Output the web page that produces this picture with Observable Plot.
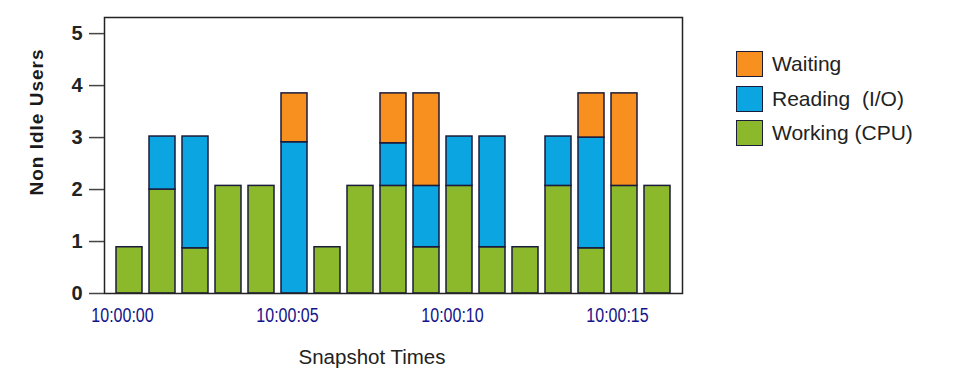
<!DOCTYPE html>
<html>
<head>
<meta charset="utf-8">
<script src="https://cdn.jsdelivr.net/npm/d3@7"></script>
<script src="https://cdn.jsdelivr.net/npm/@observablehq/plot@0.6"></script>
<style>
  body { margin: 0; background: #fff; }
  #wrap { position: relative; width: 964px; height: 380px; font-family: Arial, "Liberation Sans", sans-serif; }
  #wrap svg { position: absolute; left: 0; top: 0; }
  .ytitle { position: absolute; left: 37px; top: 122px; transform: translate(-50%, -50%) rotate(-90deg); font-weight: bold; font-size: 19px; letter-spacing: 1px; color: #1a1a1a; white-space: nowrap; }
  .xtitle { position: absolute; left: 372px; top: 357px; transform: translate(-50%, -50%); font-size: 20.5px; color: #222; white-space: nowrap; }
  .legend { position: absolute; left: 736px; top: 47px; }
  .legend .item { display: flex; align-items: center; height: 34.5px; }
  .legend .sw { width: 25px; height: 24px; border: 1.5px solid #1b1b3c; margin-right: 9px; }
  .legend .lab { font-size: 21px; color: #222; white-space: pre; }
</style>
</head>
<body>
<div id="wrap"></div>
<script>
const times = ["10:00:00","10:00:01","10:00:02","10:00:03","10:00:04","10:00:05","10:00:06","10:00:07","10:00:08","10:00:09","10:00:10","10:00:11","10:00:12","10:00:13","10:00:14","10:00:15","10:00:16"];
const working = [0.89, 2.00, 0.87, 2.07, 2.07, 0.00, 0.89, 2.07, 2.07, 0.89, 2.07, 0.89, 0.89, 2.07, 0.87, 2.07, 2.07];
const reading = [0.00, 1.02, 2.15, 0.00, 0.00, 2.91, 0.00, 0.00, 0.82, 1.18, 0.95, 2.13, 0.00, 0.95, 2.13, 0.00, 0.00];
const waiting = [0.00, 0.00, 0.00, 0.00, 0.00, 0.94, 0.00, 0.00, 0.96, 1.78, 0.00, 0.00, 0.00, 0.00, 0.85, 1.78, 0.00];
const series = ["Working (CPU)", "Reading  (I/O)", "Waiting"];
const colors = ["#8cb82b", "#0ba5e2", "#f7901e"];
const yTicks = [0, 1, 2, 3, 4, 5];
const xTicks = ["10:00:00", "10:00:05", "10:00:10", "10:00:15"];
const legendOrder = ["Waiting", "Reading  (I/O)", "Working (CPU)"];

const values = [working, reading, waiting];
const data = [];
times.forEach((t, i) => {
  series.forEach((s, k) => {
    if (values[k][i] > 0) data.push({time: t, status: s, value: values[k][i]});
  });
});

const chart = Plot.plot({
  width: 964,
  height: 380,
  marginLeft: 104,
  marginRight: 282,
  marginTop: 17,
  marginBottom: 87,
  style: {fontFamily: "Arial, 'Liberation Sans', sans-serif", background: "transparent"},
  x: {domain: times, paddingInner: 0.21, paddingOuter: 0.33, label: null},
  y: {domain: [0, 5.31], label: null},
  color: {domain: series, range: colors},
  marks: [
    Plot.barY(data, Plot.stackY({x: "time", y: "value", fill: "status", stroke: "#1b1b3c", strokeWidth: 1.5})),
    Plot.frame({stroke: "#222", strokeWidth: 1.5}),
    Plot.axisY({ticks: yTicks, tickFormat: d => String(d), tickSize: 15, tickPadding: 7, label: null, fontSize: 20, fontWeight: "bold", stroke: "#444", strokeWidth: 1.5, fill: "#222"}),
    Plot.axisX({ticks: xTicks, tickSize: 0, tickPadding: 14, label: null, fontSize: 20, dx: -7, fill: "#14148a", className: "xt"})
  ]
});

// narrow the x tick labels horizontally, keeping each label's own position
chart.querySelectorAll(".xt text").forEach(t => {
  const tr = t.getAttribute("transform") || "";
  t.setAttribute("transform", tr + " scale(0.8,1)");
});

const wrap = document.getElementById("wrap");
wrap.appendChild(chart);

const yt = document.createElement("div");
yt.className = "ytitle"; yt.textContent = "Non Idle Users";
wrap.appendChild(yt);
const xt = document.createElement("div");
xt.className = "xtitle"; xt.textContent = "Snapshot Times";
wrap.appendChild(xt);

const color = chart.scale("color");
const legend = document.createElement("div");
legend.className = "legend";
legendOrder.forEach(s => {
  const item = document.createElement("div");
  item.className = "item";
  const sw = document.createElement("div");
  sw.className = "sw";
  sw.style.background = color.apply(s);
  const lab = document.createElement("span");
  lab.className = "lab";
  lab.textContent = s;
  item.appendChild(sw); item.appendChild(lab);
  legend.appendChild(item);
});
wrap.appendChild(legend);
</script>
</body>
</html>
